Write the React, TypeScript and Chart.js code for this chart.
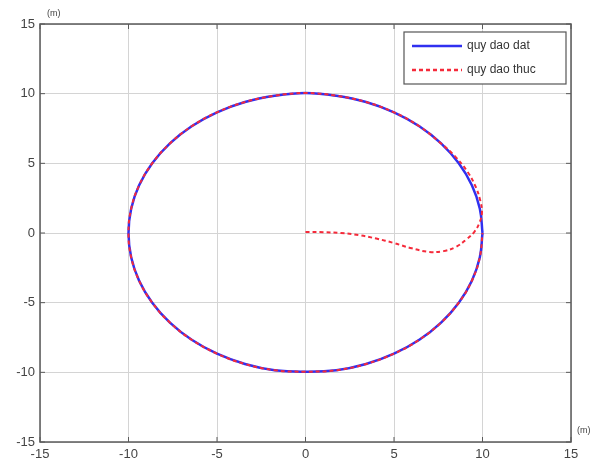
import React, { useEffect, useRef } from "react";
import { Chart, registerables } from "chart.js";

Chart.register(...registerables);

// Desired trajectory (quy dao dat): circle of radius 10
const datX = [10, 9.85, 9.4, 8.66, 7.66, 6.43, 5.0, 3.42, 1.74, 0, -1.74, -3.42, -5.0, -6.43, -7.66, -8.66, -9.4, -9.85, -10, -9.85, -9.4, -8.66, -7.66, -6.43, -5.0, -3.42, -1.74, 0, 1.74, 3.42, 5.0, 6.43, 7.66, 8.66, 9.4, 9.85, 10];
const datY = [0, 1.74, 3.42, 5.0, 6.43, 7.66, 8.66, 9.4, 9.85, 10.05, 9.85, 9.4, 8.66, 7.66, 6.43, 5.0, 3.42, 1.74, 0, -1.74, -3.42, -5.0, -6.43, -7.66, -8.66, -9.4, -9.85, -9.95, -9.85, -9.4, -8.66, -7.66, -6.43, -5.0, -3.42, -1.74, 0];

// Actual trajectory (quy dao thuc)
const thucX = [0, 1, 2, 3, 4, 5, 6, 7, 7.8, 8.5, 9.1, 9.55, 9.85, 9.97, 9.88, 9.62, 9.15, 8.45, 7.66, 6.43, 5.0, 3.42, 1.74, 0, -1.74, -3.42, -5.0, -6.43, -7.66, -8.66, -9.4, -9.85, -10, -9.85, -9.4, -8.66, -7.66, -6.43, -5.0, -3.42, -1.74, 0, 1.74, 3.42, 5.0, 6.43, 7.66, 8.66, 9.4, 9.85, 10];
const thucY = [0.07, 0.06, 0.0, -0.15, -0.4, -0.72, -1.1, -1.36, -1.3, -1.0, -0.45, 0.1, 0.8, 1.5, 2.3, 3.3, 4.4, 5.5, 6.43, 7.66, 8.66, 9.4, 9.85, 10.05, 9.85, 9.4, 8.66, 7.66, 6.43, 5.0, 3.42, 1.74, 0, -1.74, -3.42, -5.0, -6.43, -7.66, -8.66, -9.4, -9.85, -9.95, -9.85, -9.4, -8.66, -7.66, -6.43, -5.0, -3.42, -1.74, 0];

const tickValues = [-15, -10, -5, 0, 5, 10, 15];
const legendLabels = ["quy dao dat", "quy dao thuc"];
const unitLabel = "(m)";

const BLUE = "#3030f0";
const RED = "#f52a3a";
const FONT = "'Liberation Sans', Arial, sans-serif";

const framePlugin = {
  id: "matlabFrame",
  afterDraw(chart: any) {
    const { ctx, chartArea: a, scales } = chart;
    ctx.save();
    // frame
    ctx.strokeStyle = "#5a5a5a";
    ctx.lineWidth = 1.5;
    ctx.strokeRect(a.left, a.top, a.right - a.left, a.bottom - a.top);
    // inward ticks
    ctx.lineWidth = 1;
    const tl = 5;
    tickValues.forEach((v) => {
      const px = scales.x.getPixelForValue(v);
      const py = scales.y.getPixelForValue(v);
      ctx.beginPath();
      ctx.moveTo(px, a.bottom); ctx.lineTo(px, a.bottom - tl);
      ctx.moveTo(px, a.top); ctx.lineTo(px, a.top + tl);
      ctx.moveTo(a.left, py); ctx.lineTo(a.left + tl, py);
      ctx.moveTo(a.right, py); ctx.lineTo(a.right - tl, py);
      ctx.stroke();
    });
    // unit labels
    ctx.fillStyle = "#444";
    ctx.font = `9px ${FONT}`;
    ctx.textBaseline = "middle";
    ctx.textAlign = "left";
    ctx.fillText(unitLabel, a.left + 7, a.top - 10);
    ctx.fillText(unitLabel, a.right + 6, a.bottom - 11);
    // legend
    const lx = 404, ly = 32, lw = 162, lh = 52;
    ctx.fillStyle = "#ffffff";
    ctx.fillRect(lx, ly, lw, lh);
    ctx.strokeStyle = "#555";
    ctx.lineWidth = 1.2;
    ctx.strokeRect(lx, ly, lw, lh);
    const rows = [
      { label: legendLabels[0], color: BLUE, dash: [] as number[], y: ly + 14 },
      { label: legendLabels[1], color: RED, dash: [4, 3], y: ly + 38 },
    ];
    rows.forEach((r) => {
      ctx.strokeStyle = r.color;
      ctx.lineWidth = 2.5;
      ctx.setLineDash(r.dash);
      ctx.beginPath();
      ctx.moveTo(lx + 8, r.y);
      ctx.lineTo(lx + 58, r.y);
      ctx.stroke();
      ctx.setLineDash([]);
      ctx.fillStyle = "#333";
      ctx.font = `12px ${FONT}`;
      ctx.textAlign = "left";
      ctx.textBaseline = "middle";
      ctx.fillText(r.label, lx + 63, r.y);
    });
    ctx.restore();
  },
};

export default function App() {
  const ref = useRef<HTMLCanvasElement | null>(null);
  useEffect(() => {
    if (!ref.current) return;
    const chart = new Chart(ref.current, {
      type: "scatter",
      data: {
        datasets: [
          {
            label: legendLabels[0],
            data: datX.map((x, i) => ({ x, y: datY[i] })),
            showLine: true,
            borderColor: BLUE,
            borderWidth: 2.5,
            pointRadius: 0,
            tension: 0.4,
            order: 2,
          },
          {
            label: legendLabels[1],
            data: thucX.map((x, i) => ({ x, y: thucY[i] })),
            showLine: true,
            borderColor: RED,
            borderWidth: 2,
            borderDash: [4, 3],
            pointRadius: 0,
            tension: 0.4,
            order: 1,
          },
        ],
      },
      options: {
        responsive: false,
        animation: false,
        layout: { padding: { left: 0, right: 22, top: 24, bottom: 0 } },
        plugins: { legend: { display: false }, tooltip: { enabled: false } },
        scales: {
          x: {
            type: "linear",
            min: -15,
            max: 15,
            afterBuildTicks: (s: any) => { s.ticks = tickValues.map((v) => ({ value: v })); },
            afterFit: (s: any) => { s.height = 21; },
            grid: { color: "#d4d4d4", lineWidth: 1, drawTicks: false },
            border: { display: false },
            ticks: { color: "#444", font: { family: FONT, size: 13 }, padding: 5 },
          },
          y: {
            type: "linear",
            min: -15,
            max: 15,
            afterBuildTicks: (s: any) => { s.ticks = tickValues.map((v) => ({ value: v })); },
            afterFit: (s: any) => { s.width = 40; },
            grid: { color: "#d4d4d4", lineWidth: 1, drawTicks: false },
            border: { display: false },
            ticks: { color: "#444", font: { family: FONT, size: 13 }, padding: 5 },
          },
        },
      },
      plugins: [framePlugin],
    });
    return () => chart.destroy();
  }, []);
  return (
    <div style={{ position: "fixed", left: 0, top: 0, width: 593, height: 463, background: "#fff" }}>
      <canvas ref={ref} width={593} height={463} />
    </div>
  );
}
